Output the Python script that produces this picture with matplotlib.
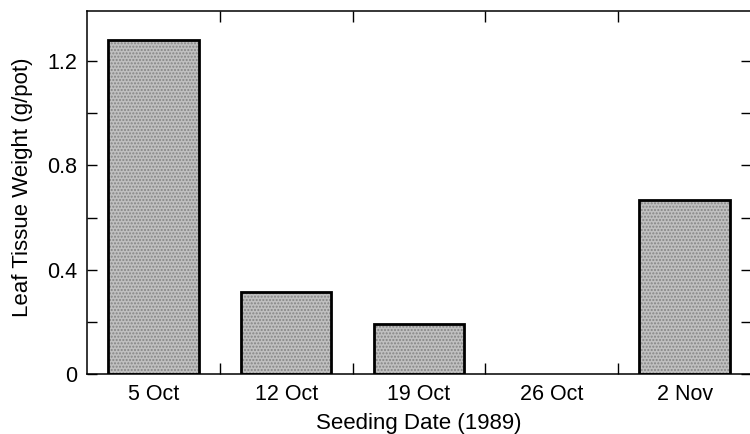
import numpy as np
from matplotlib import pyplot as plt

plt.rcParams['font.family'] = ['Liberation Sans', 'DejaVu Sans']

# seeding dates and leaf tissue weight (g/pot)
dates = ['5 Oct', '12 Oct', '19 Oct', '26 Oct', '2 Nov']
weight = [1.28, 0.313, 0.192, 0.0, 0.667]

y_major = [0, 0.4, 0.8, 1.2]
y_major_labels = ['0', '0.4', '0.8', '1.2']
y_minor = [0.2, 0.6, 1.0]

fig = plt.figure(figsize=(7.5, 4.34), dpi=100)
ax = fig.add_axes([0.116, 0.1382, 0.8853, 0.8364])

x = np.arange(len(dates))

# stippled fill, then the heavy outline on top (no outline for empty bars)
ax.bar(x, weight, width=0.68, color='#c0c0c0', hatch='.....',
	   edgecolor='#848484', linewidth=0, zorder=2)
edges = ['black' if w > 0 else 'none' for w in weight]
ax.bar(x, weight, width=0.68, fill=False, edgecolor=edges,
	   linewidth=2.0, zorder=3)

ax.set_xlim(-0.5, len(dates) - 0.5)
ax.set_ylim(0, 1.392)

ax.set_xticks(x)
ax.set_xticklabels(dates, fontsize=15.5)
ax.set_xticks(x[:-1] + 0.5, minor=True)
ax.tick_params(axis='x', which='major', length=0, pad=7)
ax.tick_params(axis='x', which='minor', direction='in', length=8,
			   width=1, top=True, bottom=True)

ax.set_yticks(y_major)
ax.set_yticklabels(y_major_labels, fontsize=15.5)
ax.set_yticks(y_minor, minor=True)
ax.tick_params(axis='y', which='both', direction='in', length=7,
			   width=1, left=True, right=True, pad=7)

for s in ax.spines.values():
	s.set_linewidth(1.1)

ax.set_xlabel('Seeding Date (1989)', fontsize=16, labelpad=6)
ax.set_ylabel('Leaf Tissue Weight (g/pot)', fontsize=16)
ax.yaxis.set_label_coords(-0.082, 0.514)

fig.savefig('out.png', dpi=100)
